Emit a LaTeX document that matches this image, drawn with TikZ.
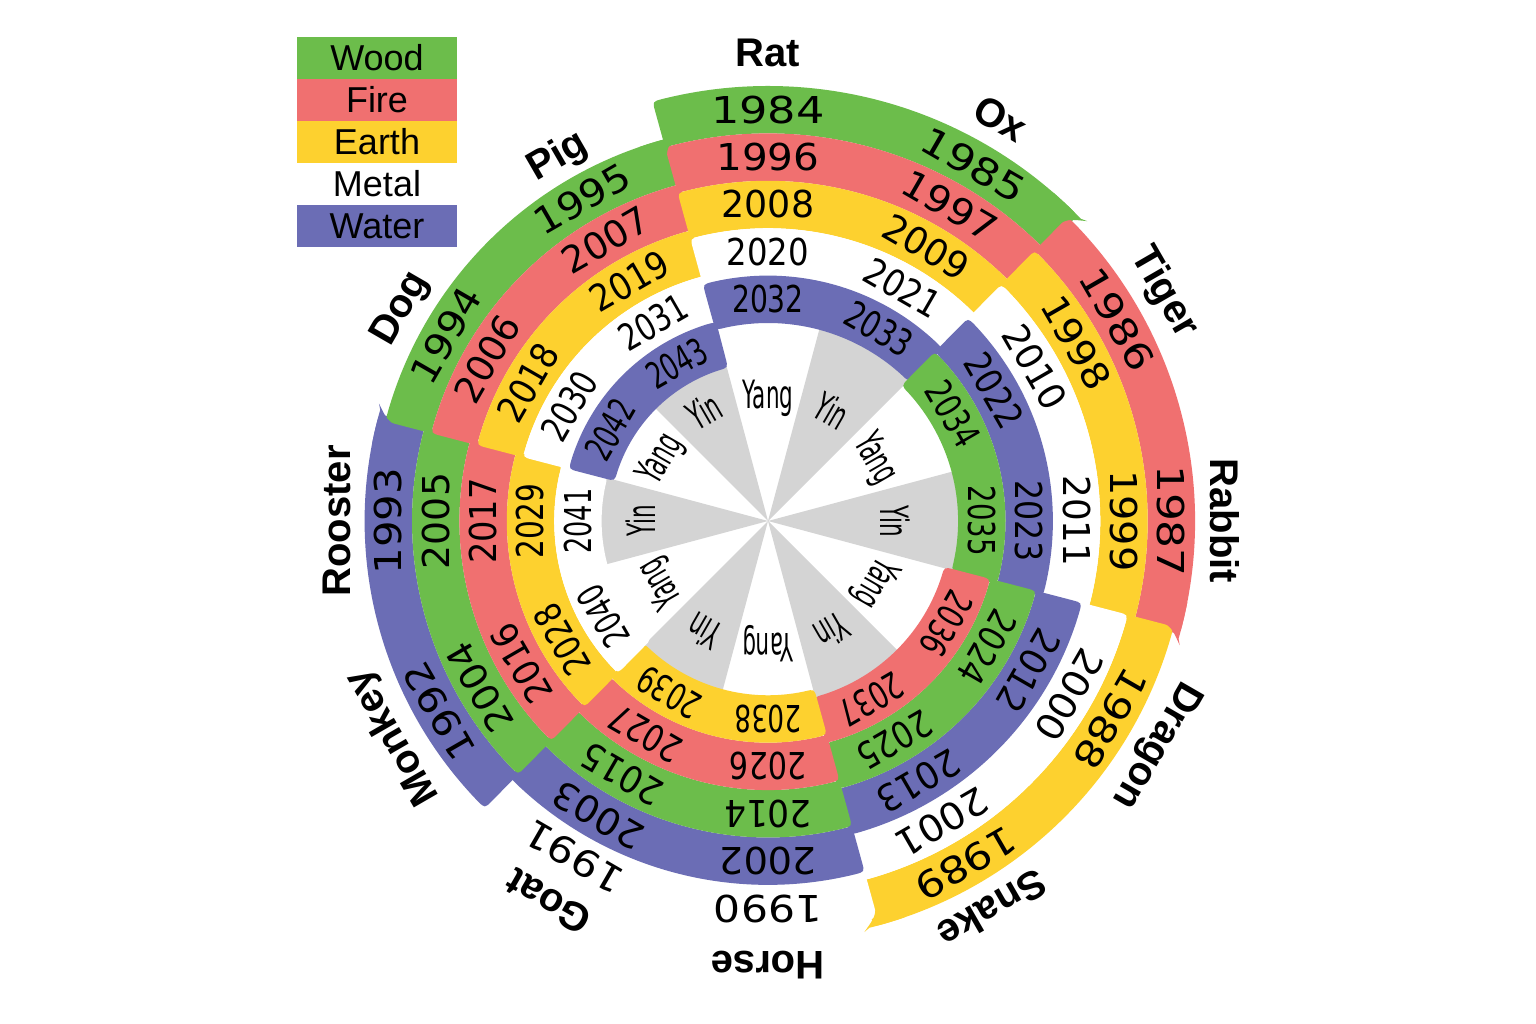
\documentclass[tikz,border=0pt]{standalone}
\usepackage{fontspec}
\usepackage{graphicx}
\setmainfont{Liberation Sans}
\newfontfamily\yearfont{DejaVu Sans}
\definecolor{el0}{HTML}{6CBD4B}
\definecolor{el1}{HTML}{F07070}
\definecolor{el2}{HTML}{FDD12F}
\definecolor{el3}{HTML}{FFFFFF}
\definecolor{el4}{HTML}{6B6DB5}
\definecolor{yinc}{HTML}{D4D4D4}
\tikzset{
  legbox/.style={minimum width=160pt, minimum height=42pt, inner sep=0pt,
    font=\fontsize{36}{36}\selectfont, text height=25.8pt, text depth=0pt},
  animal/.style={inner sep=0pt, font=\bfseries\fontsize{40}{40}\selectfont,
    text height=28.6pt, text depth=0pt},
  yinyang/.style={inner sep=0pt, font=\yearfont\fontsize{39}{39}\selectfont,
    text height=28.4pt, text depth=0pt},
  yearlab/.style={inner sep=0pt}
}
\begin{document}
\begin{tikzpicture}[x=1pt,y=1pt]
\useasboundingbox (0,0) rectangle (1536,1024);
\fill[white] (0,0) rectangle (1536,1024);
\def\Rz{435}\def\dd{7.9}\def\ww{47.4}\def\cr{10}
\begin{scope}[shift={(768,503)}]
  % Yin wedges
  \foreach \qq in {0,...,5}{
    \pgfmathsetmacro\wR{\Rz-\dd*(24+\qq)-\ww+3}
    \pgfmathsetmacro\wA{75-60*\qq}
    \pgfmathsetmacro\wB{45-60*\qq}
    \fill[yinc] (0,0) -- (\wA:\wR pt) arc[start angle=\wA, end angle=\wB, radius=\wR pt] -- cycle;
  }
  % element bands (spiral), rounded corners built by hand
  \foreach \pp in {0,...,29}{
    \pgfmathtruncatemacro\bEl{mod(\pp,5)}
    \pgfmathsetmacro\bRo{\Rz-\dd*\pp}
    \pgfmathsetmacro\bRi{\bRo-\ww}
    \pgfmathsetmacro\bTs{105-60*\pp+0.4}
    \pgfmathsetmacro\bTe{45-60*\pp-0.4}
    \pgfmathsetmacro\dO{\cr/\bRo*57.2958}
    \pgfmathsetmacro\dI{\cr/\bRi*57.2958}
    \pgfmathsetmacro\sA{\bTs-\dO}
    \pgfmathsetmacro\eA{\bTe+\dO}
    \pgfmathsetmacro\sB{\bTs-\dI}
    \pgfmathsetmacro\eB{\bTe+\dI}
    \pgfmathsetmacro\rOc{\bRo-\cr}
    \pgfmathsetmacro\rIc{\bRi+\cr}
    \fill[color=el\bEl] (\sA:\bRo pt) arc[start angle=\sA, end angle=\eA, radius=\bRo pt]
      .. controls (\bTe:\bRo pt) .. (\bTe:\rOc pt) -- (\bTe:\rIc pt)
      .. controls (\bTe:\bRi pt) .. (\eB:\bRi pt)
      arc[start angle=\eB, end angle=\sB, radius=\bRi pt]
      .. controls (\bTs:\bRi pt) .. (\bTs:\rIc pt) -- (\bTs:\rOc pt)
      .. controls (\bTs:\bRo pt) .. (\sA:\bRo pt) -- cycle;
  }
  % pointed tips at the outer ends of the outermost ring
  \foreach \pp in {0,1,2,4,5}{
    \pgfmathtruncatemacro\bEl{mod(\pp,5)}
    \pgfmathsetmacro\fRo{\Rz-\dd*\pp}
    \pgfmathsetmacro\fRm{\fRo-0.5*\ww}
    \pgfmathsetmacro\fRt{\fRo+3}
    \pgfmathsetmacro\fRc{\fRo-0.2*\ww}
    \pgfmathsetmacro\fTe{45-60*\pp}
    \pgfmathsetmacro\fA{\fTe+4}
    \pgfmathsetmacro\fB{\fTe-1}
    \pgfmathsetmacro\fT{\fTe-1.8}
    \pgfmathsetmacro\fC{\fTe+0.2}
    \pgfmathsetmacro\fD{\fTe+0.8}
    \fill[color=el\bEl] (\fA:\fRm pt) -- (\fA:\fRo pt) arc[start angle=\fA, end angle=\fB, radius=\fRo pt]
      -- (\fT:\fRt pt) .. controls (\fC:\fRc pt) .. (\fD:\fRm pt) -- cycle;
  }
  % Yin / Yang labels
  \foreach \yi in {0,...,11}{
    \pgfmathsetmacro\yTh{90-30*\yi}
    \pgfmathsetmacro\yRot{-30*\yi}
    \node[yinyang, rotate=\yRot] (yy\yi) at (\yTh:127pt) {\scalebox{0.55}[1]{\ifodd\yi Yin\else Yang\fi}};
  }
  % year labels
  \foreach \yi in {0,...,59}{
    \pgfmathtruncatemacro\yYr{1984+\yi}
    \pgfmathtruncatemacro\yP{floor(\yi/2)}
    \pgfmathsetmacro\yR{\Rz-\dd*\yP-\ww/2}
    \pgfmathsetmacro\yW{0.22*\yR+23}
    \pgfmathsetmacro\yTh{90-30*\yi}
    \pgfmathsetmacro\yRot{-30*\yi}
    \node[yearlab, rotate=\yRot] (yr\yYr) at (\yTh:\yR pt) {\resizebox{\yW pt}{27.5pt}{\yearfont \yYr}};
  }
  % animal names
  \foreach \an [count=\ai from 0] in {Rat,Ox,Tiger,Rabbit,Dragon,Snake,Horse,Goat,Monkey,Rooster,Dog,Pig}{
    \pgfmathsetmacro\aR{469-4.1*\ai}
    \pgfmathsetmacro\aTh{90-30*\ai}
    \pgfmathsetmacro\aRot{-30*\ai}
    \node[animal, rotate=\aRot] (an\ai) at (\aTh:\aR pt) {\an};
  }
\end{scope}
% legend
\node[legbox, fill=el0] (lgWood)  at (377,966) {Wood};
\node[legbox, fill=el1] (lgFire)  at (377,924) {Fire};
\node[legbox, fill=el2] (lgEarth) at (377,882) {Earth};
\node[legbox]           (lgMetal) at (377,840) {Metal};
\node[legbox, fill=el4] (lgWater) at (377,798) {Water};
\end{tikzpicture}
\end{document}
